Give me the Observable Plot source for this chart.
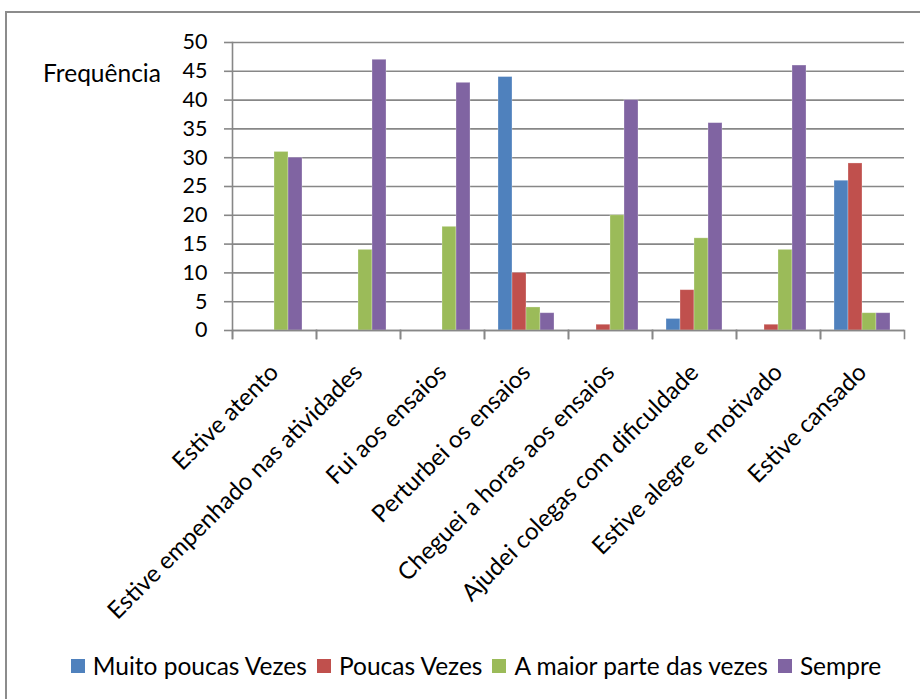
<!DOCTYPE html>
<html><head><meta charset="utf-8">
<script src="https://cdn.jsdelivr.net/npm/d3@7"></script>
<script src="https://cdn.jsdelivr.net/npm/@observablehq/plot@0.6"></script>
<style>
body{margin:0;background:#fff;font-family:Lato,sans-serif;}
#wrap{position:relative;width:920px;height:699px;overflow:hidden;background:#fff;}
#border{position:absolute;left:5px;top:11px;width:960px;height:740px;border:2px solid #8c8c8c;box-sizing:border-box;}
#chart{position:absolute;left:0;top:0;}
#ylabel{position:absolute;left:43px;top:61px;font-size:24.5px;line-height:24.5px;color:#000;}
#legend{position:absolute;left:0;top:651px;width:952px;display:flex;justify-content:center;align-items:center;font-size:24.5px;color:#000;}
#legend .item{display:flex;align-items:center;margin:0 5px;}
#legend .sw{width:14px;height:14px;margin-right:8px;}
</style>
</head><body>
<div id="wrap">
  <div id="border"></div>
  <div id="chart"></div>
  <div id="ylabel">Frequência</div>
  <div id="legend"></div>
</div>
<script>
const categories = [
  "Estive atento",
  "Estive empenhado nas atividades",
  "Fui aos ensaios",
  "Perturbei os ensaios",
  "Cheguei a horas aos ensaios",
  "Ajudei colegas com dificuldade",
  "Estive alegre e motivado",
  "Estive cansado"
];
const series = ["Muito poucas Vezes", "Poucas Vezes", "A maior parte das vezes", "Sempre"];
const muitoPoucasVezes = [0, 0, 0, 44, 0, 2, 0, 26];
const poucasVezes      = [0, 0, 0, 10, 1, 7, 1, 29];
const maiorParte       = [31, 14, 18, 4, 20, 16, 14, 3];
const sempre           = [30, 47, 43, 3, 40, 36, 46, 3];
const colors = ["#4f81bd", "#c0504d", "#9bbb59", "#8064a2"];
const yTicks = [0, 5, 10, 15, 20, 25, 30, 35, 40, 45, 50];

const valuesBySeries = [muitoPoucasVezes, poucasVezes, maiorParte, sempre];
const data = [];
categories.forEach((c, i) => {
  series.forEach((s, j) => {
    const v = valuesBySeries[j][i];
    if (v > 0) data.push({cat: c, series: s, value: v});
  });
});

const gridColor = "#878787";

const chart = Plot.plot({
  width: 920,
  height: 640,
  marginLeft: 231,
  marginRight: 15,
  marginTop: 42,
  marginBottom: 310,
  fx: {domain: categories, padding: 0, axis: null},
  x: {domain: series, paddingInner: 0, paddingOuter: 0.81, axis: null},
  y: {domain: [0, 50], axis: null},
  color: {domain: series, range: colors},
  style: {fontFamily: "Lato, sans-serif", fontSize: "21px", color: "#000", background: "transparent", overflow: "visible"},
  marks: [
    Plot.gridY(yTicks, {stroke: gridColor, strokeOpacity: 1, strokeWidth: 1.6}),
    Plot.axisY(yTicks, {tickSize: 8, tickPadding: 17, stroke: gridColor, strokeWidth: 1.6, strokeOpacity: 1, fill: "#000", fontSize: 21.5, label: null, tickFormat: d => String(d)}),
    Plot.barY(data, {fx: "cat", x: "series", y: "value", fill: "series", stroke: "#ffffff", strokeOpacity: 0.35, strokeWidth: 0.8}),
    Plot.ruleY([0], {stroke: gridColor, strokeWidth: 1.6}),
    Plot.frame({anchor: "left", insetTop: 288, insetBottom: -8, stroke: gridColor, strokeWidth: 1.6}),
    Plot.frame({anchor: "right", insetTop: 288, insetBottom: -8, stroke: gridColor, strokeWidth: 1.6}),
    Plot.frame({anchor: "left", facetAnchor: "left", insetBottom: -8, stroke: gridColor, strokeWidth: 1.6}),
    Plot.text(categories, {fx: d => d, text: d => d, frameAnchor: "bottom", rotate: -45, textAnchor: "end", lineAnchor: "middle", dy: 38, fontSize: 24, fill: "#000"})
  ]
});
document.getElementById("chart").appendChild(chart);

const legend = document.getElementById("legend");
series.forEach((s, j) => {
  const item = document.createElement("div");
  item.className = "item";
  const sw = document.createElement("div");
  sw.className = "sw";
  sw.style.background = colors[j];
  const t = document.createElement("span");
  t.textContent = s;
  item.appendChild(sw);
  item.appendChild(t);
  legend.appendChild(item);
});
</script>
</body></html>
